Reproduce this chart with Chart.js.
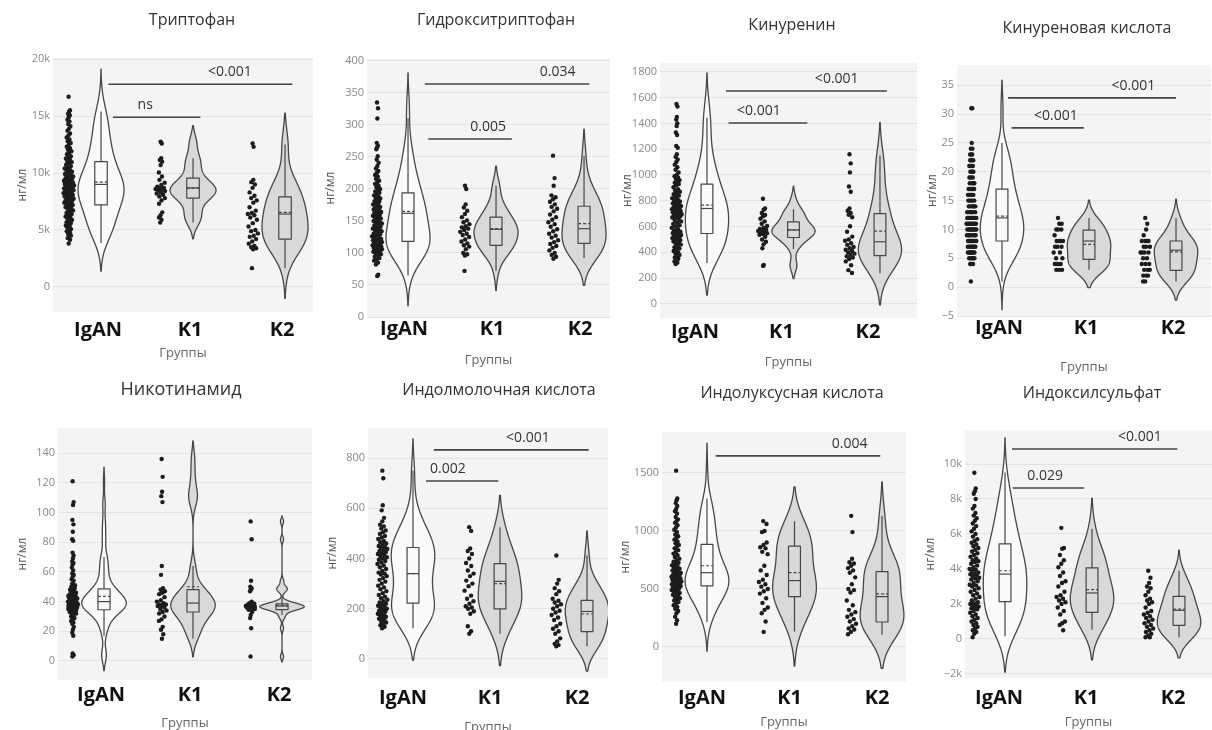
<!DOCTYPE html>
<html><head><meta charset="utf-8">
<script src="https://cdn.jsdelivr.net/npm/chart.js@4.4.1/dist/chart.umd.min.js"></script>
<style>html,body{margin:0;padding:0;background:#fff;width:1212px;height:730px;overflow:hidden;position:relative}canvas{position:absolute}</style>
</head><body>
<script>
// ---------- categories ----------
const GROUPS = ['IgAN', 'K1', 'K2'];
const Y_TITLE = 'нг/мл';
const X_TITLE = 'Группы';

// ---------- 1. Триптофан ----------
const trp_title = 'Триптофан';
const trp_IgAN = [16700,15520,15380,15200,15080,14900,14680,14520,14300,14120,13900,13720,13480,13300,13120,12940,12800,12640,12480,12310,12190,12040,11920,11780,11650,11480,11390,11280,11150,11040,10960,10840,10730,10610,10490,10400,10310,10220,10110,10010,9920,9840,9760,9690,9610,9540,9460,9400,9330,9280,9210,9150,9090,9040,8990,8950,8900,8840,8790,8740,8700,8650,8590,8540,8500,8440,8390,8340,8300,8240,8190,8140,8080,8010,7950,7890,7810,7740,7690,7610,7540,7460,7390,7310,7250,7190,7090,7010,6930,6840,6720,6610,6490,6400,6290,6180,6090,5990,5880,5790,5690,5600,5480,5390,5300,5190,5080,4990,4880,4790,4640,4510,4400,4290,4140,3810];
const trp_K1 = [12750,12600,11300,11150,11000,10700,10050,9700,9400,9150,8950,8800,8700,8650,8600,8550,8500,8420,8300,8200,8100,7950,7800,7600,7300,6550,6300,6100,5900,5650];
const trp_K2 = [12600,12300,9400,9200,9000,8700,8300,8000,7800,7600,7400,7000,6700,6500,6400,6300,6100,5900,5600,5300,5000,4900,4700,4500,4400,4200,4000,3800,3600,3500,3400,3300,1650];
const trp_stats = [[3850,7200,9000,11000,15400,9200],[5650,7800,8700,9550,11300,8650],[1650,4200,6400,7900,12500,6550]]; // lo,q1,median,q3,hi,mean
const trp_ticks = [0,5000,10000,15000,20000];
const trp_tickLabels = ['0','5k','10k','15k','20k'];
const trp_sig = [[0.08,2.08,17800,'<0.001',1.40],[0.13,1.08,14900,'ns',0.48]];

// ---------- 2. Гидрокситриптофан ----------
const htp_title = 'Гидрокситриптофан';
const htp_IgAN = [335,326,310,272,268,265,262,251,246,241,236,232,228,225,222,219,216,213,210,208,205,203,200,198,196,194,192,190,188,186,185,183,181,180,178,176,175,173,172,170,168,167,165,164,163,162,160,159,158,157,155,154,152,150,149,148,146,145,143,141,140,138,137,135,134,132,130,129,128,126,125,124,122,121,120,119,118,117,116,115,114,113,112,111,110,110,109,108,108,107,106,105,105,104,103,102,101,100,98,96,94,92,90,88,85,82,66,64];
const htp_K1 = [205,200,176,171,166,161,156,151,148,145,142,140,138,136,133,130,128,125,121,118,115,112,110,106,100,98,96,72];
const htp_K2 = [252,217,205,190,187,184,180,176,172,169,165,160,156,152,148,145,141,137,134,130,127,124,120,117,114,111,108,104,100,97,94,91];
const htp_stats = [[65,118,162,194,310,165],[72,112,137,156,205,138],[92,115,138,173,252,146]];
const htp_ticks = [0,50,100,150,200,250,300,350,400];
const htp_tickLabels = ['0','50','100','150','200','250','300','350','400'];
const htp_sig = [[0.19,2.06,364,'0.034',1.70],[0.23,1.18,278,'0.005',0.91]];

// ---------- 3. Кинуренин ----------
const kyn_title = 'Кинуренин';
const kyn_IgAN = [1550,1530,1450,1430,1400,1380,1330,1310,1225,1210,1160,1140,1120,1100,1080,1060,1040,1020,1000,990,980,970,960,950,940,930,920,905,890,880,870,860,850,840,830,820,810,800,795,790,780,775,770,760,755,750,745,740,735,730,725,720,715,710,705,700,695,690,685,680,675,670,660,650,640,630,620,610,600,590,580,570,560,555,550,545,540,535,530,525,520,515,510,505,500,495,490,485,480,470,460,450,440,430,420,410,400,390,380,370,360,350,340,330,320,310];
const kyn_K1 = [815,740,730,705,690,680,660,640,622,605,592,582,576,570,565,560,555,548,542,536,520,500,482,462,432,302,295];
const kyn_K2 = [1160,1090,1020,910,870,740,722,705,692,672,602,560,522,500,490,470,458,442,432,420,410,400,390,380,370,360,348,330,300,262,240];
const kyn_stats = [[317,546,740,929,1444,766],[425,515,574,636,735,572],[237,374,482,700,1150,565]];
const kyn_ticks = [0,200,400,600,800,1000,1200,1400,1600,1800];
const kyn_tickLabels = ['0','200','400','600','800','1000','1200','1400','1600','1800'];
const kyn_sig = [[0.22,2.08,1651,'<0.001',1.50],[0.25,1.16,1403,'<0.001',0.60]];

// ---------- 4. Кинуреновая кислота ----------
const kyna_title = 'Кинуреновая кислота';
const kyna_IgAN = [31,31,25,24,24,23,23,23,22,22,22,22,21,21,21,20,20,20,20,19,19,19,18,18,18,18,17,17,17,17,17,16,16,16,16,16,15,15,15,15,15,14,14,14,14,14,14,13,13,13,13,13,13,12,12,12,12,12,12,12,12,12,11,11,11,11,11,11,11,11,10,10,10,10,10,10,10,10,10,9,9,9,9,9,9,9,8,8,8,8,8,8,8,7,7,7,7,7,7,7,6,6,6,6,6,6,6,6,5,5,5,5,5,4,4,4,1];
const kyna_K1 = [12,11,11,10,10,10,9,8,8,8,8,7,7,7,6,6,5,5,4,4,4,4,3,3,3];
const kyna_K2 = [12,11,10,9,8,8,8,8,7,7,7,6,6,6,6,5,5,4,4,4,3,3,3,2,2,2,1,1];
const kyna_stats = [[1,8,12,17,25,12.3],[3,4.8,8,9.9,12,7.4],[1,2.9,6.4,8,12,6.1]];
const kyna_ticks = [-5,0,5,10,15,20,25,30,35];
const kyna_tickLabels = ['−5','0','5','10','15','20','25','30','35'];
const kyna_sig = [[0.07,2.00,32.8,'<0.001',1.51],[0.11,0.94,27.6,'<0.001',0.62]];

// ---------- 5. Никотинамид ----------
const nam_title = 'Никотинамид';
const nam_IgAN = [121,107,105,95,92,87,82,81,73,71,69,67,66,65,63,61,59,58,57,55,54,52,51,50,50,49,48,48,47,47,46,46,45,45,45,44,44,44,43,43,43,42,42,42,41,41,41,40,40,40,40,39,39,39,39,38,38,38,38,37,37,37,37,36,36,36,36,35,35,35,35,34,34,34,33,33,32,32,31,30,29,28,27,26,25,23,21,19,17,5,4,4,3];
const nam_K1 = [136,124,114,111,107,64,58,49,48,47,46,45,43,41,40,39,38,38,37,37,36,35,34,33,32,30,28,27,23,21,18,15];
const nam_K2 = [94,82,54,50,49,48,47,40,39,38.5,38,38,37.5,37,37,37,36.5,36.5,36,36,36,35.5,35,35,34.5,33,31,29,22,3];
const nam_stats = [[17,34.5,40,48.5,70,43.5],[15,33,39,48,64,50],[31,34.6,37,38.4,44,37.5]];
const nam_ticks = [0,20,40,60,80,100,120,140];
const nam_tickLabels = ['0','20','40','60','80','100','120','140'];
const nam_sig = [];

// ---------- 6. Индолмолочная кислота ----------
const ila_title = 'Индолмолочная кислота';
const ila_IgAN = [750,720,612,592,562,548,535,528,520,512,505,498,490,484,478,470,465,460,455,450,446,442,438,434,430,426,422,418,414,410,405,400,395,390,384,378,372,365,358,350,344,340,336,330,322,315,308,300,292,285,278,270,262,255,248,242,236,230,225,220,216,212,208,204,200,196,192,188,184,180,176,172,168,164,160,155,150,145,140,134,128,122];
const ila_K1 = [525,510,440,430,418,400,382,370,352,340,330,312,300,290,272,252,240,230,220,210,205,200,190,180,130,110,100];
const ila_K2 = [412,315,300,282,270,258,240,232,225,218,210,200,192,185,175,165,155,140,130,120,110,100,82,70,60,55,50];
const ila_stats = [[122,222,340,444,750,340],[100,199,309,380,525,300],[50,109,189,233,412,179]];
const ila_ticks = [0,200,400,600,800];
const ila_tickLabels = ['0','200','400','600','800'];
const ila_sig = [[0.24,2.02,833,'<0.001',1.32],[0.15,0.98,709,'0.002',0.40]];

// ---------- 7. Индолуксусная кислота ----------
const iaa_title = 'Индолуксусная кислота';
const iaa_IgAN = [1520,1280,1265,1240,1215,1190,1170,1150,1120,1100,1085,1070,1050,1030,1010,990,970,955,940,925,910,895,880,865,850,835,820,805,790,775,760,745,735,725,715,705,695,685,675,668,660,652,645,638,630,624,618,612,606,600,595,590,585,580,575,570,565,560,555,550,545,540,535,530,525,520,512,505,498,490,482,475,466,458,450,440,430,420,410,400,388,375,360,345,330,310,290,260,230,200];
const iaa_K1 = [1085,1060,1000,990,900,880,860,850,820,800,700,660,620,580,560,540,520,500,480,460,420,380,340,320,290,220,130];
const iaa_K2 = [1130,990,760,730,720,700,680,660,640,600,540,500,490,470,400,360,320,300,280,260,240,220,200,180,160,150,130,110];
const iaa_stats = [[215,526,640,884,1280,700],[134,434,572,870,1084,640],[105,215,434,649,1130,457]];
const iaa_ticks = [0,500,1000,1500];
const iaa_tickLabels = ['0','500','1000','1500'];
const iaa_sig = [[0.10,1.98,1647,'0.004',1.63]];

// ---------- 8. Индоксилсульфат ----------
const ins_title = 'Индоксилсульфат';
const ins_IgAN = [9500,8600,8450,8300,8000,7600,7450,7200,7050,6900,6750,6600,6450,6300,6150,6000,5850,5700,5600,5500,5400,5300,5200,5100,5000,4900,4800,4700,4600,4500,4450,4400,4300,4200,4100,4000,3950,3900,3800,3750,3700,3650,3600,3500,3450,3400,3300,3200,3100,3050,3000,2900,2800,2700,2600,2500,2400,2300,2200,2100,2050,2000,1950,1900,1850,1800,1750,1700,1600,1500,1400,1300,1200,1100,1000,900,800,700,600,500,400,300,100];
const ins_K1 = [6350,5200,5150,4800,4500,4300,4100,3800,3600,3300,3200,3000,2700,2500,2400,2300,2200,2100,2000,1800,1600,1400,1000,900,800,500];
const ins_K2 = [3900,3500,3200,3000,2900,2700,2500,2300,2200,2100,2000,1800,1600,1500,1400,1300,1200,1100,1000,900,800,700,600,500,400,300,200,100,100];
const ins_stats = [[150,2130,3710,5430,9520,3900],[530,1520,2630,4060,6300,2820],[100,780,1640,2440,3900,1710]];
const ins_ticks = [-2000,0,2000,4000,6000,8000,10000];
const ins_tickLabels = ['−2k','0','2k','4k','6k','8k','10k'];
const ins_sig = [[0.08,1.98,10860,'<0.001',1.55],[0.09,0.91,8630,'0.029',0.46]];

// ---------- assemble ----------
const PANELS = [
  {title:trp_title, data:[trp_IgAN,trp_K1,trp_K2], stats:trp_stats, ticks:trp_ticks, labels:trp_tickLabels, sig:trp_sig},
  {title:htp_title, data:[htp_IgAN,htp_K1,htp_K2], stats:htp_stats, ticks:htp_ticks, labels:htp_tickLabels, sig:htp_sig},
  {title:kyn_title, data:[kyn_IgAN,kyn_K1,kyn_K2], stats:kyn_stats, ticks:kyn_ticks, labels:kyn_tickLabels, sig:kyn_sig},
  {title:kyna_title, data:[kyna_IgAN,kyna_K1,kyna_K2], stats:kyna_stats, ticks:kyna_ticks, labels:kyna_tickLabels, sig:kyna_sig},
  {title:nam_title, data:[nam_IgAN,nam_K1,nam_K2], stats:nam_stats, ticks:nam_ticks, labels:nam_tickLabels, sig:nam_sig},
  {title:ila_title, data:[ila_IgAN,ila_K1,ila_K2], stats:ila_stats, ticks:ila_ticks, labels:ila_tickLabels, sig:ila_sig},
  {title:iaa_title, data:[iaa_IgAN,iaa_K1,iaa_K2], stats:iaa_stats, ticks:iaa_ticks, labels:iaa_tickLabels, sig:iaa_sig},
  {title:ins_title, data:[ins_IgAN,ins_K1,ins_K2], stats:ins_stats, ticks:ins_ticks, labels:ins_tickLabels, sig:ins_sig},
];

// ---------- layout (pixels) ----------
const LAYOUT = [
  {T:0,bgL:53,bgT:58,bgR:313,bgB:312,titleX:192,titleY:20,yTitleX:22,xLabY:330,xTitleY:353,fs:16,xmin:-0.522,xmax:2.304,ymin:-2200,ymax:20100,lo:-3},
  {T:0,bgL:367,bgT:59,bgR:610,bgB:317,titleX:496,titleY:20,yTitleX:330,xLabY:329,xTitleY:360,fs:16,xmin:-0.466,xmax:2.295,ymin:0,ymax:403,lo:-4},
  {T:0,bgL:660,bgT:63,bgR:917,bgB:318,titleX:792,titleY:25,yTitleX:627,xLabY:332,xTitleY:362,fs:16,xmin:-0.543,xmax:2.428,ymin:-109,ymax:1868,lo:-12},
  {T:0,bgL:957,bgT:65,bgR:1211,bgB:316,titleX:1087,titleY:28,yTitleX:932,xLabY:328,xTitleY:367,fs:16,xmin:-0.517,xmax:2.402,ymin:-5,ymax:38.5,lo:-3},
  {T:370,bgL:58,bgT:428,bgR:312,bgB:680,titleX:181,titleY:390,yTitleX:22,xLabY:695,xTitleY:723,fs:18,xmin:-0.517,xmax:2.337,ymin:-12.8,ymax:156.9,lo:-3},
  {T:370,bgL:368,bgT:428,bgR:608,bgB:678,titleX:499,titleY:390,yTitleX:332,xLabY:698,xTitleY:727,fs:16,xmin:-0.517,xmax:2.241,ymin:-76,ymax:920,lo:-10},
  {T:370,bgL:662,bgT:432,bgR:906,bgB:682,titleX:792,titleY:393,yTitleX:625,xLabY:698,xTitleY:722,fs:16,xmin:-0.514,xmax:2.274,ymin:-302,ymax:1853,lo:-5},
  {T:370,bgL:965,bgT:430,bgR:1212,bgB:678,titleX:1092,titleY:393,yTitleX:930,xLabY:698,xTitleY:722,fs:16,xmin:-0.46,xmax:2.379,ymin:-2229,ymax:11943,lo:-6},
];

// ---------- style ----------
const FONT = "'Open Sans', 'DejaVu Sans', sans-serif";
const BG = '#f4f4f4', GRID = '#e3e3e3', LINE = '#474747', DOT = '#1c1c1c';
const FILLS = ['#fafafa', '#d9d9d9', '#d9d9d9'];
const HW = 0.25;      // violin half width (category units)
const BOXW = 0.068;   // box half width
const PPOS = -0.35;   // points offset
const JIT = 0.06;     // jitter half width

function makeKDE(vals){
  const s=[...vals].sort((a,b)=>a-b), n=s.length;
  const mean=s.reduce((a,b)=>a+b,0)/n;
  const sd=Math.sqrt(s.reduce((a,b)=>a+(b-mean)*(b-mean),0)/(n-1));
  const qt=p=>{const h=(n-1)*p,l=Math.floor(h);return s[l]+(s[Math.min(l+1,n-1)]-s[l])*(h-l);};
  const iqr=qt(.75)-qt(.25);
  const sig=iqr>0?Math.min(sd,iqr/1.349):sd;
  const bw=1.059*sig*Math.pow(n,-0.2);
  const f=y=>{let d=0;for(const v of s){const z=(y-v)/bw;d+=Math.exp(-.5*z*z);}return d;};
  const a=s[0]-2*bw,b=s[n-1]+2*bw,N=300,ys=[],ds=[];
  for(let i=0;i<=N;i++){const y=a+(b-a)*i/N;ys.push(y);ds.push(f(y));}
  const m=Math.max(...ds);
  return {ys,ds:ds.map(d=>d/m),dens:y=>f(y)/m};
}

function makePlugin(kdes, stats, sig){
  return {
    id:'violins',
    beforeDraw(c){const a=c.chartArea,x=c.ctx;x.save();x.fillStyle=BG;x.fillRect(a.left,a.top,a.right-a.left,a.bottom-a.top);x.restore();},
    beforeDatasetsDraw(c){
      const ctx=c.ctx,X=c.scales.x,Y=c.scales.y,a=c.chartArea;
      ctx.save();ctx.beginPath();ctx.rect(a.left,a.top,a.right-a.left,a.bottom-a.top);ctx.clip();
      ctx.strokeStyle=LINE;ctx.lineJoin='round';
      kdes.forEach((k,i)=>{
        ctx.beginPath();
        k.ys.forEach((y,j)=>{const px=X.getPixelForValue(i+HW*k.ds[j]),py=Y.getPixelForValue(y);j?ctx.lineTo(px,py):ctx.moveTo(px,py);});
        for(let j=k.ys.length-1;j>=0;j--)ctx.lineTo(X.getPixelForValue(i-HW*k.ds[j]),Y.getPixelForValue(k.ys[j]));
        ctx.closePath();ctx.fillStyle=FILLS[i];ctx.fill();ctx.lineWidth=1.3;ctx.stroke();
        const [lo,q1,md,q3,hi,mn]=stats[i];
        const xl=X.getPixelForValue(i-BOXW),xr=X.getPixelForValue(i+BOXW),xc=X.getPixelForValue(i);
        const yt=Y.getPixelForValue(q3),yb=Y.getPixelForValue(q1);
        ctx.lineWidth=1.2;
        ctx.beginPath();ctx.moveTo(xc,Y.getPixelForValue(hi));ctx.lineTo(xc,yt);ctx.moveTo(xc,yb);ctx.lineTo(xc,Y.getPixelForValue(lo));ctx.stroke();
        ctx.fillStyle=FILLS[i];ctx.fillRect(xl,yt,xr-xl,yb-yt);ctx.strokeRect(xl,yt,xr-xl,yb-yt);
        const ym=Y.getPixelForValue(md);
        ctx.beginPath();ctx.moveTo(xl,ym);ctx.lineTo(xr,ym);ctx.stroke();
        const ya=Y.getPixelForValue(mn);
        ctx.setLineDash([3,2]);ctx.beginPath();ctx.moveTo(xl,ya);ctx.lineTo(xr,ya);ctx.stroke();ctx.setLineDash([]);
      });
      ctx.restore();
    },
    afterDatasetsDraw(c){
      const ctx=c.ctx,X=c.scales.x,Y=c.scales.y;
      ctx.save();ctx.font='14px '+FONT;ctx.fillStyle='#333';ctx.textAlign='center';ctx.textBaseline='middle';
      sig.forEach(s=>ctx.fillText(s[3],X.getPixelForValue(s[4]),Y.getPixelForValue(s[2])-12));
      ctx.restore();
    }
  };
}

function build(p, L){
  const left=Math.round(L.yTitleX-7.2);
  const yw=L.bgL-left;
  const W=Math.round(2*(L.titleX-left));
  const rw=Math.max(0,left+W-L.bgR);
  const lh=L.fs*1.2;
  const pt=L.titleY-L.T-lh/2;
  const pb=L.bgT-L.T-pt-lh;
  const H=Math.round(L.xTitleY+7.8-L.T);
  const xh=H-(L.bgB-L.T);
  const tp=Math.max(0,L.xLabY-L.bgB-12);
  const cv=document.createElement('canvas');
  cv.width=W;cv.height=H;
  cv.style.left=left+'px';cv.style.top=L.T+'px';cv.style.width=W+'px';cv.style.height=H+'px';
  document.body.appendChild(cv);

  const kdes=p.data.map(makeKDE);
  const datasets=p.data.map((vals,i)=>({
    label:GROUPS[i],
    data:vals.map((v,j)=>{const u=((j*0.6180339887+0.37)%1)-0.5;return {x:i+PPOS+2*u*JIT*Math.max(0.15,kdes[i].dens(v)),y:v};}),
    pointRadius:2.2,pointBackgroundColor:DOT,pointBorderWidth:0,showLine:false
  }));
  p.sig.forEach(s=>datasets.push({label:s[3],data:[{x:s[0],y:s[2]},{x:s[1],y:s[2]}],showLine:true,borderColor:'#454545',borderWidth:1.6,pointRadius:0,fill:false}));

  new Chart(cv,{
    type:'scatter',
    data:{datasets},
    options:{
      responsive:false,animation:false,events:[],devicePixelRatio:1,
      layout:{padding:0},
      plugins:{
        legend:{display:false},tooltip:{enabled:false},
        title:{display:true,text:p.title,color:'#333',font:{family:FONT,size:L.fs,weight:'normal',lineHeight:1.2},padding:{top:pt,bottom:pb}}
      },
      scales:{
        x:{type:'linear',min:L.xmin,max:L.xmax,
          grid:{display:false,drawTicks:false},border:{display:false},
          afterBuildTicks:s=>{s.ticks=GROUPS.map((g,i)=>({value:i}));},
          ticks:{autoSkip:false,maxRotation:0,padding:tp,labelOffset:L.lo,color:'#111',font:{family:FONT,size:20,weight:'bold',lineHeight:1.2},callback:(v,i)=>GROUPS[i]},
          title:{display:true,text:X_TITLE,color:'#666',padding:0,font:{family:FONT,size:13,lineHeight:1.2}},
          afterFit:s=>{s.height=xh;}
        },
        y:{type:'linear',position:'left',min:L.ymin,max:L.ymax,
          grid:{display:true,drawTicks:false,color:GRID,lineWidth:1},border:{display:false},
          afterBuildTicks:s=>{s.ticks=p.ticks.map(v=>({value:v}));},
          ticks:{autoSkip:false,padding:3,color:'#888',font:{family:FONT,size:11},callback:(v,i)=>p.labels[i]},
          title:{display:true,text:Y_TITLE,color:'#555',padding:0,font:{family:FONT,size:12,lineHeight:1.2}},
          afterFit:s=>{s.width=yw;}
        },
        yR:{type:'linear',position:'right',display:true,
          grid:{display:false,drawTicks:false},border:{display:false},ticks:{display:false},
          afterFit:s=>{s.width=rw;}
        }
      }
    },
    plugins:[makePlugin(kdes,p.stats,p.sig)]
  });
}

PANELS.forEach((p,i)=>build(p,LAYOUT[i]));
</script>
</body></html>
